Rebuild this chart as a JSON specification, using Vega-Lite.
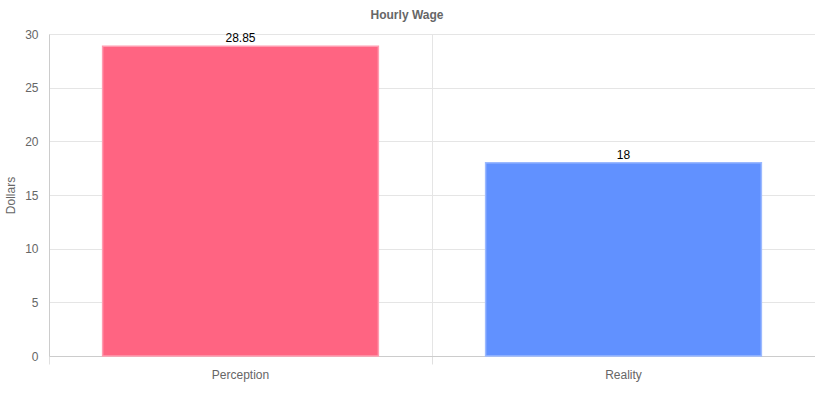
{
  "$schema": "https://vega.github.io/schema/vega-lite/v6.json",
  "autosize": "none",
  "width": 766,
  "height": 322,
  "padding": {"left": 49, "top": 34, "right": 0, "bottom": 51},
  "background": "white",
  "title": {
    "text": "Hourly Wage",
    "font": "Liberation Sans",
    "fontSize": 12,
    "fontWeight": "bold",
    "color": "#666666",
    "anchor": "middle",
    "dx": -25,
    "offset": 6
  },
  "config": {
    "view": {"stroke": null},
    "axis": {
      "labelFont": "Liberation Sans",
      "labelFontSize": 12,
      "labelColor": "#666666",
      "titleFont": "Liberation Sans",
      "titleFontSize": 12,
      "titleFontWeight": "normal",
      "titleColor": "#666666",
      "gridColor": "#e5e5e5",
      "domainColor": "#cccccc",
      "tickColor": "#e0e0e0"
    }
  },
  "data": {
    "values": [
      {"category": "Perception", "wage": 28.85},
      {"category": "Reality", "wage": 18}
    ]
  },
  "encoding": {
    "x": {
      "field": "category",
      "type": "nominal",
      "sort": null,
      "scale": {"paddingInner": 0, "paddingOuter": 0}
    },
    "y": {
      "field": "wage",
      "type": "quantitative",
      "scale": {"domain": [0, 30], "nice": false},
      "axis": {
        "title": "Dollars",
        "values": [0, 5, 10, 15, 20, 25, 30],
        "ticks": false,
        "labelPadding": 11,
        "titlePadding": 7
      }
    }
  },
  "layer": [
    {
      "mark": {"type": "bar", "width": {"band": 0.72}, "strokeWidth": 1.5, "fillOpacity": 1},
      "encoding": {
        "x": {
          "field": "category",
          "type": "nominal",
          "sort": null,
          "axis": {
            "orient": "bottom",
            "title": null,
            "labels": false,
            "grid": true,
            "bandPosition": 0,
            "ticks": true,
            "tickSize": 8,
            "domain": true
          }
        },
        "color": {
          "field": "category",
          "type": "nominal",
          "scale": {"domain": ["Perception", "Reality"], "range": ["#ff6482", "#6191ff"]},
          "legend": null
        },
        "stroke": {
          "field": "category",
          "type": "nominal",
          "scale": {"domain": ["Perception", "Reality"], "range": ["#ff9cb0", "#9bb9ff"]},
          "legend": null
        }
      }
    },
    {
      "mark": {
        "type": "text",
        "baseline": "bottom",
        "dy": -1,
        "font": "Liberation Sans",
        "fontSize": 12,
        "color": "#000000"
      },
      "encoding": {
        "x": {
          "field": "category",
          "type": "nominal",
          "sort": null,
          "axis": {
            "orient": "bottom",
            "title": null,
            "grid": false,
            "ticks": false,
            "domain": false,
            "labelPadding": 13,
            "labelAngle": 0
          }
        },
        "text": {"field": "wage", "type": "quantitative"}
      }
    }
  ],
  "resolve": {"axis": {"x": "independent"}}
}
